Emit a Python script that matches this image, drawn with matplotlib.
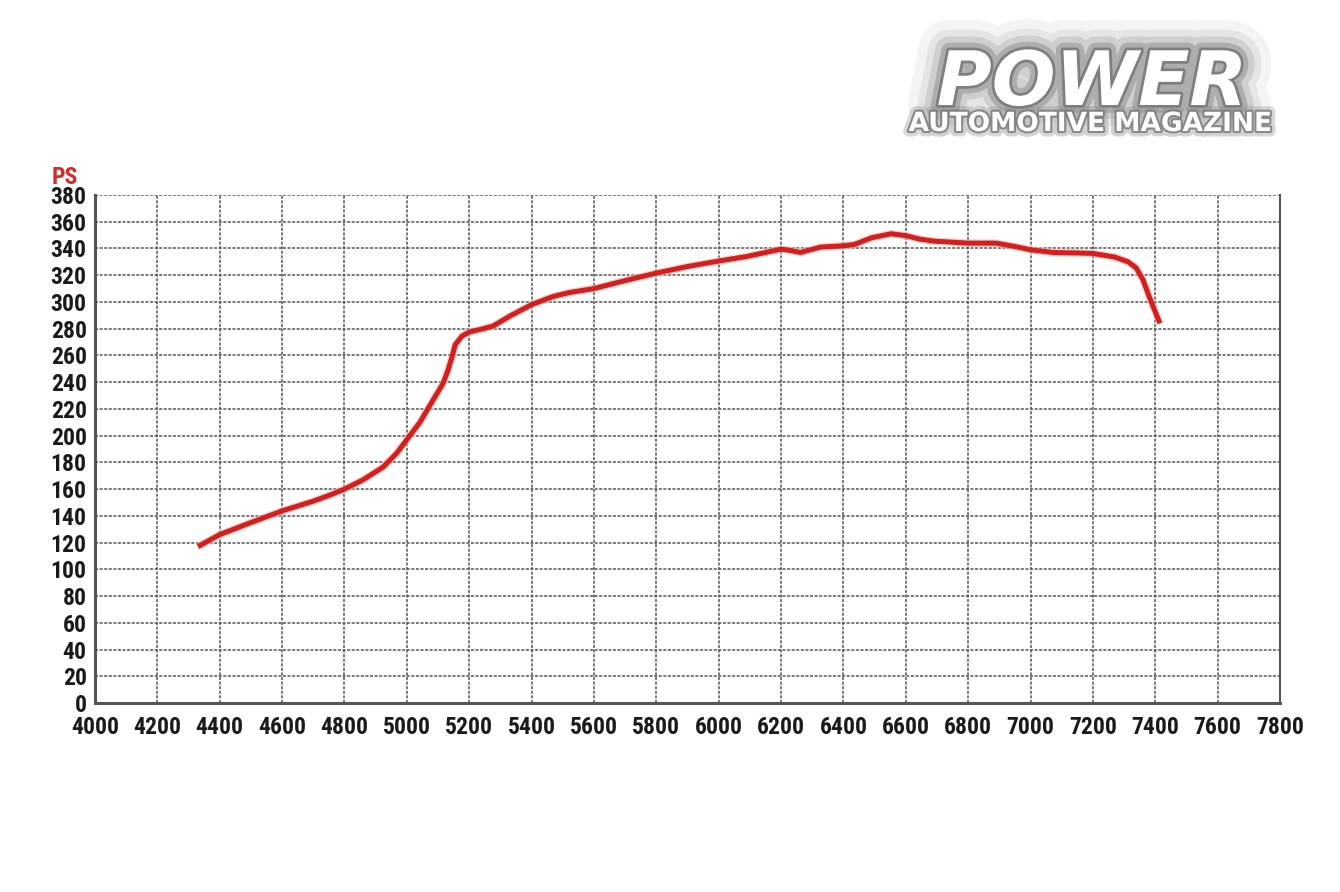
import matplotlib
matplotlib.use("Agg")
import matplotlib.pyplot as plt
import matplotlib.patheffects as pe
from matplotlib import font_manager as fm

rpm = [4330, 4400, 4500, 4600, 4700, 4754, 4800, 4860, 4924, 4968, 5000, 5042,
       5084, 5116, 5132, 5145, 5155, 5177, 5200, 5245, 5277, 5331, 5400, 5468,
       5520, 5600, 5700, 5800, 5900, 6000, 6090, 6150, 6200, 6230, 6262, 6326,
       6400, 6435, 6490, 6553, 6600, 6645, 6690, 6800, 6890, 6950, 7000, 7073,
       7159, 7200, 7270, 7313, 7339, 7361, 7381, 7400, 7415]
ps = [117, 126, 135, 143.7, 151, 155.6, 160, 167, 176.5, 187, 197, 210,
      226.6, 239, 249, 259, 268, 274.5, 277.5, 280, 282, 289.5, 298, 304,
      307, 310, 316, 321.6, 326.5, 330.6, 334, 337, 339.5, 338.5, 337, 341,
      342, 343, 348, 351, 349.6, 347, 345.5, 344, 344, 341.5, 339, 337,
      336.6, 336.3, 333.6, 330, 325.4, 316.4, 303.7, 292.6, 284]

x_ticks = list(range(4000, 7801, 200))
y_ticks = list(range(0, 381, 20))

names = {f.name for f in fm.fontManager.ttflist}
font = "DejaVu Sans"
for cand in ["Roboto Condensed", "Liberation Sans Narrow", "Roboto", "Lato"]:
    if cand in names:
        font = cand
        break

fig = plt.figure(figsize=(13.4, 8.92), dpi=100)
ax = fig.add_axes([95/1340, 1-703/892, (1280-95)/1340, (703-195)/892])

ax.plot(rpm, ps, color="#d21f1f", lw=3.6, solid_capstyle="butt", solid_joinstyle="round",
        zorder=5, path_effects=[pe.Stroke(linewidth=5.5, foreground="#f3b0a8", alpha=0.6), pe.Normal()])

ax.set_xlim(4000, 7800)
ax.set_ylim(0, 380)
ax.set_xticks(x_ticks)
ax.set_yticks(y_ticks)
ax.grid(True, color="#555555", lw=1.1, linestyle=(0, (2, 1)))
ax.tick_params(length=0, pad=6)
ax.tick_params(axis="x", pad=9)
for lab in ax.get_xticklabels() + ax.get_yticklabels():
    lab.set_fontfamily(font)
    lab.set_fontweight("bold")
    lab.set_fontsize(17)
    lab.set_color("#1a1a1a")
ax.spines["top"].set_visible(False)
for s in ["left", "bottom"]:
    ax.spines[s].set_color("#555555")
    ax.spines[s].set_linewidth(2.2)
ax.spines["right"].set_color("#555555")
ax.spines["right"].set_linewidth(1.5)

fig.text(52/1340, 1-178/892, "PS", color="#d42a2a", fontsize=17, fontweight="bold",
         family=font, va="center", ha="left")

# logo
glow = [pe.Stroke(linewidth=w, foreground="#707070", alpha=a) for w, a in
        [(44, 0.07), (30, 0.11), (20, 0.18), (11, 0.35), (4, 0.75)]] + [pe.Normal()]
fig.text(1092/1340, 1-105/892, "POWER", color="white", fontsize=54, fontweight="bold",
         style="italic", family="DejaVu Sans", ha="center", va="baseline", path_effects=glow)
fig.text(1090/1340, 1-124/892, "AUTOMOTIVE MAGAZINE", color="white", fontsize=19,
         fontweight="bold", family="DejaVu Sans", ha="center", va="center",
         path_effects=[pe.Stroke(linewidth=8, foreground="#808080", alpha=0.3),
                       pe.Stroke(linewidth=3, foreground="#777777", alpha=0.8), pe.Normal()])

fig.savefig("out.png", dpi=100, facecolor="white")
